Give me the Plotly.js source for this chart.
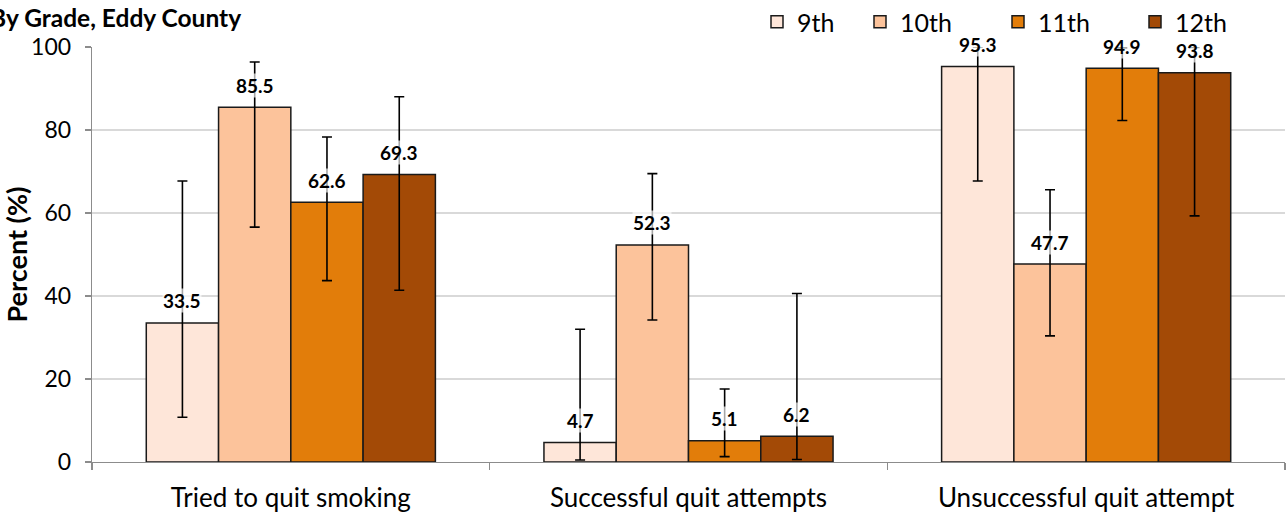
<!DOCTYPE html>
<html>
<head>
<meta charset="utf-8">
<script src="https://cdn.plot.ly/plotly-3.0.1.min.js"></script>
<style>html,body{margin:0;padding:0;background:#fff;}#chart{width:1286px;height:515px;}</style>
</head>
<body>
<div id="chart"></div>
<script>
// ---- data ----
const categories = ["Tried to quit smoking", "Successful quit attempts", "Unsuccessful quit attempt"];
const grades = ["9th", "10th", "11th", "12th"];
const values9  = [33.5, 4.7, 95.3];
const values10 = [85.5, 52.3, 47.7];
const values11 = [62.6, 5.1, 94.9];
const values12 = [69.3, 6.2, 93.8];
const upper9  = [67.7, 32.0, 100.0];
const lower9  = [10.8, 0.5, 67.7];
const upper10 = [96.4, 69.5, 65.6];
const lower10 = [56.6, 34.2, 30.4];
const upper11 = [78.3, 17.6, 99.8];
const lower11 = [43.7, 1.3, 82.3];
const upper12 = [88.0, 40.6, 99.9];
const lower12 = [41.4, 0.6, 59.3];
const yTicks = [0, 20, 40, 60, 80, 100];

// ---- style ----
const colors = ["#FEE6D9", "#FCC39B", "#E27D0A", "#A34A06"];
const seriesVals = [values9, values10, values11, values12];
const seriesUp = [upper9, upper10, upper11, upper12];
const seriesLo = [lower9, lower10, lower11, lower12];
const FONT = "Lato, 'Open Sans', sans-serif";

const margin = {l: 92, r: 1, t: 47, b: 53, autoexpand: false};
const W = 1286, H = 515;
const bargap = 0.273;
const plotW = W - margin.l - margin.r;
const plotH = H - margin.t - margin.b;
const catW = plotW / categories.length;
const barW = catW * (1 - bargap) / grades.length;
const legendWidths = [58, 93, 92, 60];

const traces = grades.map((g, i) => ({
  type: "bar",
  name: g,
  x: categories,
  y: seriesVals[i],
  marker: {color: colors[i], line: {color: "#1a1a1a", width: 1.5}},
  error_y: {
    type: "data", symmetric: false,
    array: seriesVals[i].map((v, k) => seriesUp[i][k] - v),
    arrayminus: seriesVals[i].map((v, k) => v - seriesLo[i][k]),
    color: "#000", thickness: 1.6, width: 5
  },
  legendwidth: legendWidths[i],
  cliponaxis: false,
  hoverinfo: "x+y+name"
}));

const annotations = [];
grades.forEach((g, i) => {
  seriesVals[i].forEach((v, k) => {
    annotations.push({
      x: categories[k], y: v, xref: "x", yref: "y",
      text: "<b>" + v.toFixed(1) + "</b>",
      showarrow: false, yanchor: "middle", xanchor: "center",
      yshift: 22, xshift: (i - (grades.length - 1) / 2) * barW,
      font: {family: FONT, size: 19, color: "#000"},
      bgcolor: "rgba(255,255,255,0.65)", borderpad: 0
    });
  });
});
annotations.push({
  xref: "paper", yref: "paper", x: 0, y: 1, xanchor: "left", yanchor: "middle",
  xshift: -104, yshift: 30,
  text: "<b>By Grade, Eddy County</b>", showarrow: false,
  font: {family: FONT, size: 24.5, color: "#000"}
});

const layout = {
  width: W, height: H, margin: margin,
  paper_bgcolor: "#fff", plot_bgcolor: "#fff",
  barmode: "group", bargap: bargap, bargroupgap: 0,
  font: {family: FONT, color: "#000"},
  showlegend: true,
  legend: {
    orientation: "h", x: (757 - margin.l) / plotW, xanchor: "left",
    y: 1 + (margin.t - 22) / plotH, yanchor: "middle",
    font: {family: FONT, size: 25, color: "#000"},
    traceorder: "normal", itemwidth: 30, entrywidthmode: "pixels"
  },
  xaxis: {
    type: "category",
    showline: true, linecolor: "#8c8c8c", linewidth: 1.3,
    ticks: "outside", tickson: "boundaries", ticklen: 7, tickcolor: "#8c8c8c", tickwidth: 1.3,
    tickfont: {family: FONT, size: 26, color: "#000"},
    ticklabelstandoff: 12,
    showgrid: false, fixedrange: true
  },
  yaxis: {
    range: [0, 100], tickvals: yTicks,
    showline: true, linecolor: "#8c8c8c", linewidth: 1.3,
    ticks: "outside", ticklen: 6, tickcolor: "#8c8c8c", tickwidth: 1.3,
    tickfont: {family: FONT, size: 23, color: "#000"},
    ticklabelstandoff: 9,
    showgrid: true, gridcolor: "#d9d9d9", gridwidth: 1.3,
    zeroline: false,
    title: {text: "<b>Percent (%)</b>", font: {family: FONT, size: 27, color: "#000"}, standoff: 0},
    fixedrange: true
  },
  annotations: annotations
};

Plotly.newPlot("chart", traces, layout, {displayModeBar: false, staticPlot: true});
</script>
</body>
</html>
